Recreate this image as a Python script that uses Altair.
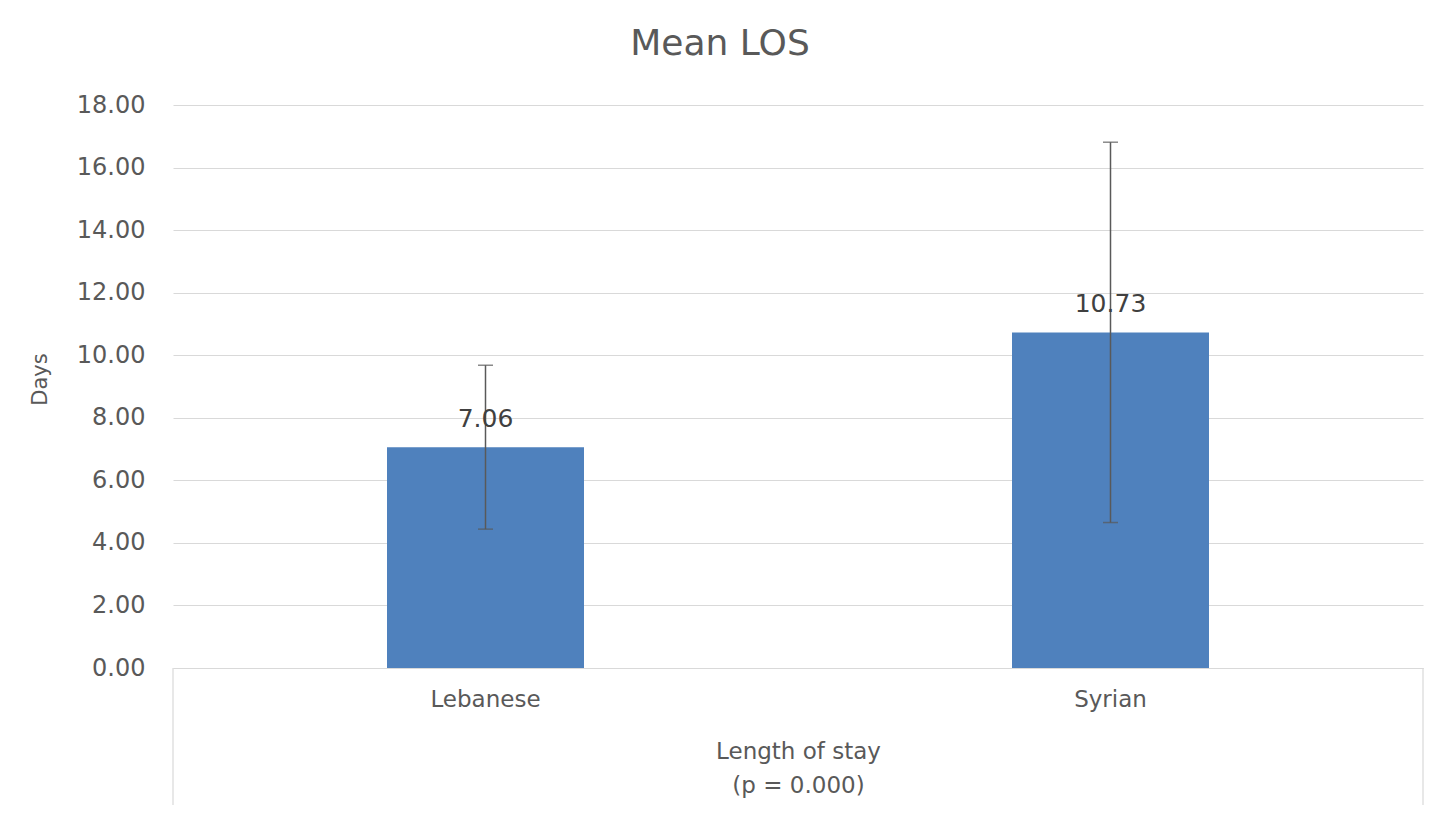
import altair as alt
import pandas as pd

categories = ["Lebanese", "Syrian"]
means = [7.06, 10.73]
sds = [2.62, 6.08]

df = pd.DataFrame({"group": categories, "mean": means, "sd": sds})
df["lo"] = df["mean"] - df["sd"]
df["hi"] = df["mean"] + df["sd"]
df["label"] = df["mean"].map(lambda v: f"{v:.2f}")

W, H = 1250, 563
FONT = "DejaVu Sans"
GREY = "#595959"

x = alt.X("group:N", sort=categories,
          scale=alt.Scale(paddingInner=0, paddingOuter=0),
          axis=alt.Axis(title=["Length of stay", "(p = 0.000)"], labelAngle=0,
                        labelFontSize=23, labelColor=GREY, labelFont=FONT,
                        labelPadding=20, ticks=False, grid=False,
                        domainColor="#d9d9d9", domainWidth=1.2,
                        titleFontSize=23, titleFont=FONT, titleColor=GREY,
                        titleFontWeight="normal", titleLineHeight=34,
                        titleBaseline="top", titleY=72))

y_axis = alt.Axis(title="Days", values=list(range(0, 19, 2)), format=".2f",
                  labelFontSize=24, labelColor=GREY, labelFont=FONT,
                  labelPadding=28, ticks=False, domain=False,
                  gridColor="#d9d9d9", gridWidth=1.2,
                  titleFontSize=21, titleFont=FONT, titleColor=GREY,
                  titleFontWeight="normal", titleAngle=-90,
                  titleX=-133, titleY=274, titleAlign="center",
                  titleBaseline="middle")

base = alt.Chart(df)

bars = base.mark_bar(size=197, color="#4F81BD").encode(
    x=x,
    y=alt.Y("mean:Q", scale=alt.Scale(domain=[0, 18]), axis=y_axis),
)

err = base.mark_rule(color=GREY, strokeWidth=1.5).encode(
    x=alt.X("group:N", sort=categories),
    y="lo:Q", y2="hi:Q",
)
caps_lo = base.mark_tick(color=GREY, thickness=1.5, size=15, orient="horizontal").encode(
    x=alt.X("group:N", sort=categories), y="lo:Q")
caps_hi = base.mark_tick(color=GREY, thickness=1.5, size=15, orient="horizontal").encode(
    x=alt.X("group:N", sort=categories), y="hi:Q")

labels = base.mark_text(dy=-28, fontSize=25, color="#404040", font=FONT,
                        baseline="middle").encode(
    x=alt.X("group:N", sort=categories), y="mean:Q", text="label:N")

# frame lines below the plot (category axis box), in scale units
frame_l_df = pd.DataFrame({"group": [categories[0]], "top": [0.0], "bottom": [-4.38]})
frame_r_df = pd.DataFrame({"group": [categories[-1]], "top": [0.0], "bottom": [-4.38]})
frame_l = alt.Chart(frame_l_df).mark_rule(
    color="#d9d9d9", strokeWidth=1.2, clip=False).encode(
    x=alt.X("group:N", sort=categories, bandPosition=0), y="top:Q", y2="bottom:Q")
frame_r = alt.Chart(frame_r_df).mark_rule(
    color="#d9d9d9", strokeWidth=1.2, clip=False).encode(
    x=alt.X("group:N", sort=categories, bandPosition=1), y="top:Q", y2="bottom:Q")

chart = alt.layer(bars, err, caps_lo, caps_hi, labels, frame_l, frame_r).properties(
    width=W, height=H,
    background="white",
    title=alt.TitleParams("Mean LOS", fontSize=36, font=FONT, color=GREY,
                          fontWeight="normal", anchor="middle", dx=-78,
                          offset=30),
    autosize=alt.AutoSizeParams(type="none"),
    padding={"left": 165, "top": 97, "right": 10, "bottom": 140},
).configure_view(strokeWidth=0)

chart.save("out.html", embed_options={"renderer": "svg", "actions": False})
